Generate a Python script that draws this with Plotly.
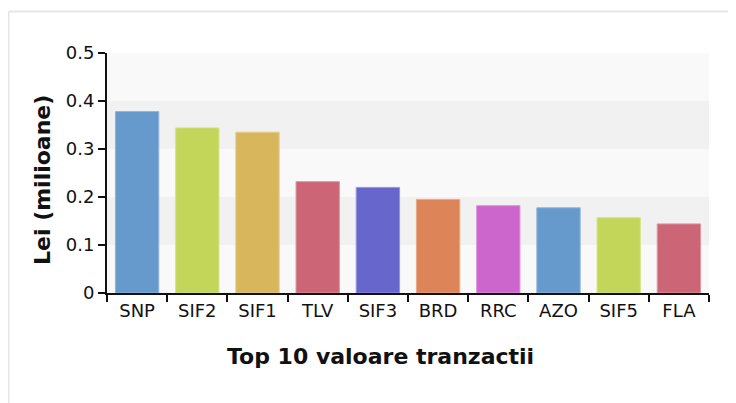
import plotly.graph_objects as go

categories = ["SNP", "SIF2", "SIF1", "TLV", "SIF3", "BRD", "RRC", "AZO", "SIF5", "FLA"]
values = [0.378, 0.344, 0.335, 0.232, 0.220, 0.195, 0.182, 0.1775, 0.157, 0.144]
colors = ["#6699cc", "#c3d65a", "#d8b65c", "#cc6677", "#6666cc",
          "#dd8558", "#cc66cc", "#6699cc", "#c3d65a", "#cc6677"]
edge_colors = ["#8fb5dd", "#d6e48a", "#e5cc8a", "#dd95a1", "#9595dd",
               "#e8a985", "#dd95dd", "#8fb5dd", "#d6e48a", "#dd95a1"]
y_ticks = [0, 0.1, 0.2, 0.3, 0.4, 0.5]
y_labels = ["0", "0.1", "0.2", "0.3", "0.4", "0.5"]

# the page body adds an 8px offset; positions below are in figure pixels
OFF = 8
W, H = 736, 403
L, R, T, B = 107 - OFF, 736 - 709 + OFF, 53 - OFF, 403 - 293 + OFF
pw, ph = W - L - R, H - T - B


def px_x(page_x):
    return (page_x - OFF - L) / pw


def px_y(page_y):
    return (H - B - (page_y - OFF)) / ph


fig = go.Figure(go.Bar(
    x=categories, y=values,
    marker=dict(color=colors, line=dict(color=edge_colors, width=1)),
    width=0.72,
))

shapes = []
# alternating bands
for i, (lo, hi) in enumerate(zip(y_ticks[:-1], y_ticks[1:])):
    shapes.append(dict(type="rect", xref="paper", yref="y", x0=0, x1=1, y0=lo, y1=hi,
                       fillcolor="#f9f9f9" if i % 2 == 0 else "#f1f1f1",
                       line=dict(width=0), layer="below"))
# outer frame lines
fx, fy = px_x(8.5), px_y(11.5)
shapes.append(dict(type="line", xref="paper", yref="paper", x0=fx, x1=px_x(760), y0=fy, y1=fy,
                   line=dict(color="#e6e6e6", width=2)))
shapes.append(dict(type="line", xref="paper", yref="paper", x0=fx, x1=fx, y0=fy, y1=px_y(420),
                   line=dict(color="#e6e6e6", width=2)))

annotations = [
    dict(text="<b>Top 10 valoare tranzactii</b>", xref="paper", yref="paper",
         x=px_x(380), y=px_y(356), xanchor="center", yanchor="middle",
         showarrow=False, font=dict(family="DejaVu Sans", size=22, color="#111111")),
    dict(text="<b>Lei (milioane)</b>", xref="paper", yref="paper", textangle=-90,
         x=px_x(42), y=px_y(180), xanchor="center", yanchor="middle",
         showarrow=False, font=dict(family="DejaVu Sans", size=22, color="#111111")),
]

fig.update_layout(
    width=W, height=H,
    margin=dict(l=L, r=R, t=T, b=B, pad=0),
    paper_bgcolor="white", plot_bgcolor="#f9f9f9",
    showlegend=False,
    shapes=shapes, annotations=annotations,
    font=dict(family="DejaVu Sans", size=18, color="#111111"),
)
fig.update_xaxes(
    showline=True, linecolor="#111111", linewidth=2,
    ticks="outside", tickson="boundaries", ticklen=7, tickwidth=1.5, tickcolor="#111111",
    showgrid=False, zeroline=False, tickfont=dict(size=18),
)
fig.update_yaxes(
    range=[0, 0.5], tickvals=y_ticks, ticktext=y_labels,
    showline=True, linecolor="#111111", linewidth=2,
    ticks="outside", ticklen=7, tickwidth=1.5, tickcolor="#111111",
    showgrid=False, zeroline=False, tickfont=dict(size=18),
)

fig.write_html("out.html")
